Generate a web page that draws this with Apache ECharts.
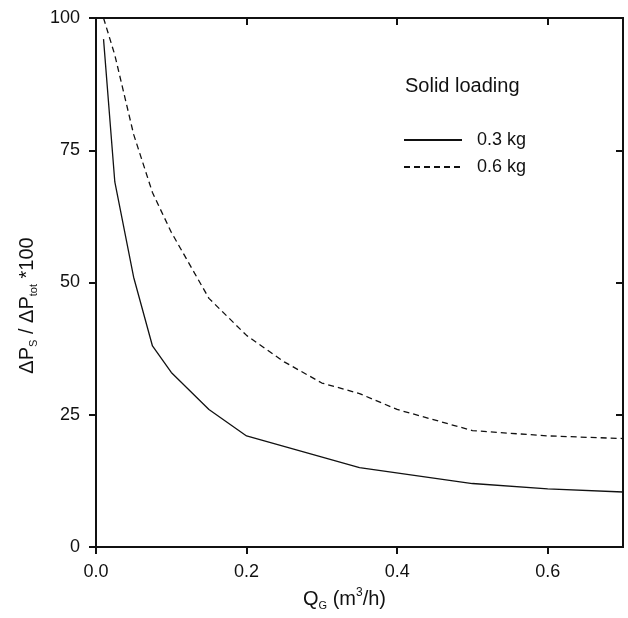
<!DOCTYPE html>
<html><head><meta charset="utf-8">
<script src="https://cdn.jsdelivr.net/npm/echarts@6/dist/echarts.min.js"></script>
<style>html,body{margin:0;padding:0;background:#fff}#c{width:628px;height:618px}</style>
</head><body><div id="c"></div>
<script>
const xTicks = [0, 0.2, 0.4, 0.6];
const yTicks = [0, 25, 50, 75, 100];
const qg03 = [0.01, 0.025, 0.05, 0.075, 0.1, 0.15, 0.2, 0.35, 0.5, 0.6, 0.7];
const dp03 = [96, 69, 51, 38, 33, 26, 21, 15, 12, 11, 10.4];
const qg06 = [0.01, 0.025, 0.05, 0.075, 0.1, 0.15, 0.2, 0.25, 0.3, 0.35, 0.4, 0.5, 0.6, 0.7];
const dp06 = [100, 93, 78, 67, 59.5, 47, 40, 35, 31, 29, 26, 22, 21, 20.5];
const seriesNames = ['0.3 kg', '0.6 kg'];
const legendTitle = 'Solid loading';

const F = 'Liberation Sans, Arial, Helvetica, sans-serif';
const chart = echarts.init(document.getElementById('c'));
const axisLine = {show: true, onZero: false, lineStyle: {color: '#111', width: 2}};
const noLine = {show: false, onZero: false};
const pairs = (xs, ys) => xs.map((x, i) => [x, ys[i]]);
chart.setOption({
  animation: false,
  backgroundColor: '#fff',
  grid: {left: 96, right: 5, top: 18, bottom: 71, show: true, borderWidth: 2, borderColor: '#111'},
  legend: {
    orient: 'vertical', left: 398, top: 126,
    itemWidth: 58, itemHeight: 14, itemGap: 9,
    itemStyle: {opacity: 0},
    textStyle: {fontFamily: F, fontSize: 18, color: '#111', padding: [0, 0, 0, 10]},
    data: seriesNames
  },
  graphic: [{
    type: 'text', left: 405, top: 76,
    style: {text: legendTitle, font: '20px ' + F, fill: '#111'}
  }, {
    type: 'rect', z: 1000, zlevel: 1,
    shape: {x: 618, y: 549.5, width: 10, height: 12}, style: {fill: '#fff'}
  }],
  xAxis: [{
    type: 'value', min: 0, max: 0.7, interval: 0.2,
    axisLine: axisLine,
    axisTick: {show: true, length: 7, customValues: xTicks, lineStyle: {color: '#111', width: 2}},
    axisLabel: {fontFamily: F, fontSize: 18, color: '#111', margin: 16, customValues: xTicks,
      formatter: v => v.toFixed(1)},
    splitLine: {show: false},
    name: '{a|Q}{sub|G}{a| (m}{sup|3}{a|/h)}',
    nameLocation: 'middle', nameGap: 40,
    nameTextStyle: {padding: [0, 30, 0, 0],
      rich: {
        a: {fontFamily: F, fontSize: 20, color: '#111', lineHeight: 24, verticalAlign: 'middle'},
        sub: {fontFamily: F, fontSize: 11, color: '#111', lineHeight: 24, verticalAlign: 'bottom'},
        sup: {fontFamily: F, fontSize: 12, color: '#111', lineHeight: 24, verticalAlign: 'top'}
      }}
  }, {
    type: 'value', min: 0, max: 0.7, interval: 0.2, position: 'top',
    axisLine: noLine,
    axisTick: {show: true, inside: true, length: 7, customValues: xTicks, lineStyle: {color: '#111', width: 2}},
    axisLabel: {show: false}, splitLine: {show: false}
  }],
  yAxis: [{
    type: 'value', min: 0, max: 100, interval: 25,
    axisLine: axisLine,
    axisTick: {show: true, length: 7, customValues: yTicks, lineStyle: {color: '#111', width: 2}},
    axisLabel: {fontFamily: F, fontSize: 18, color: '#111', margin: 16, customValues: yTicks,
      formatter: v => String(v)},
    splitLine: {show: false},
    name: '{a|ΔP}{sub|S}{a| / ΔP}{sub|tot}{a| *100}',
    nameLocation: 'middle', nameGap: 44,
    nameTextStyle: {padding: [0, 46, 0, 0],
      rich: {
        a: {fontFamily: F, fontSize: 20, color: '#111', lineHeight: 24, verticalAlign: 'middle'},
        sub: {fontFamily: F, fontSize: 11, color: '#111', lineHeight: 24, verticalAlign: 'bottom'}
      }}
  }, {
    type: 'value', min: 0, max: 100, interval: 25, position: 'right',
    axisLine: noLine,
    axisTick: {show: true, inside: true, length: 7, customValues: [25, 50, 75], lineStyle: {color: '#111', width: 2}},
    axisLabel: {show: false}, splitLine: {show: false}
  }],
  series: [{
    name: seriesNames[0], type: 'line', symbol: 'none',
    lineStyle: {color: '#111', width: 1.3, type: 'solid'},
    itemStyle: {color: '#111'},
    data: pairs(qg03, dp03)
  }, {
    name: seriesNames[1], type: 'line', symbol: 'none',
    lineStyle: {color: '#111', width: 1.3, type: [6, 4]},
    itemStyle: {color: '#111'},
    data: pairs(qg06, dp06)
  }]
});
</script></body></html>
